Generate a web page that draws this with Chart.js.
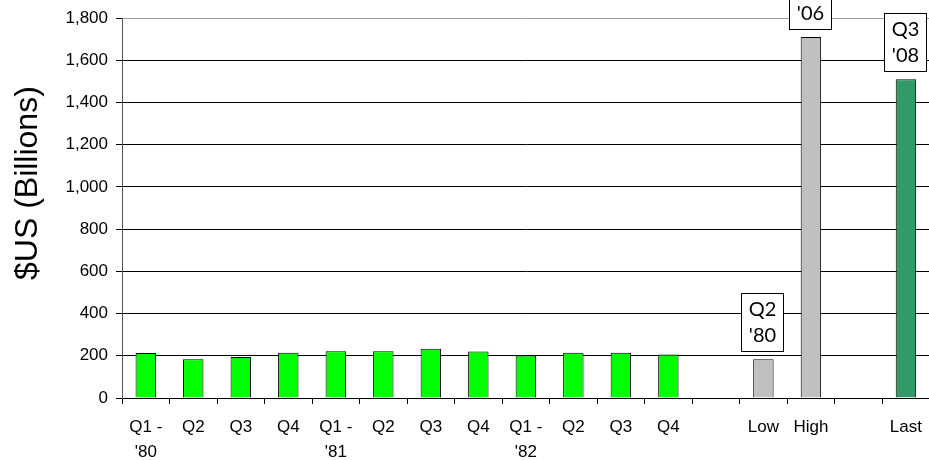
<!DOCTYPE html>
<html><head><meta charset="utf-8">
<script src="https://cdn.jsdelivr.net/npm/chart.js@4.4.0/dist/chart.umd.min.js"></script>
<style>
html,body{margin:0;padding:0;overflow:hidden;background:#fff;width:929px;height:460px}
#wrap{position:relative;width:933px;height:460px}
</style></head>
<body><div id="wrap"><canvas id="c"></canvas></div>
<script>
// ---- data ----
const categories = [["Q1 -","'80"],"Q2","Q3","Q4",["Q1 -","'81"],"Q2","Q3","Q4",["Q1 -","'82"],"Q2","Q3","Q4","","Low","High","","Last"];
const values = [213,184,194,214,222,222,234,220,201,214,214,206,null,184,1711,null,1511];
const barKinds = ["quarter","quarter","quarter","quarter","quarter","quarter","quarter","quarter","quarter","quarter","quarter","quarter","","range","range","","last"];
const barNotes = [null,null,null,null,null,null,null,null,null,null,null,null,null,["Q2","'80"],["Q4","'06"],null,["Q3","'08"]];
const yTickMin = 0, yTickMax = 1800, yTickStep = 200;
const yTitle = "$US (Billions)";

// ---- styles ----
const kindColors = {quarter:"#00FF00", range:"#C0C0C0", last:"#339966", "":"#ffffff"};
const FONT = '"Liberation Sans", Arial, sans-serif';

const notePlugin = {
  id:'notes',
  afterDatasetsDraw(chart){
    const ctx = chart.ctx, meta = chart.getDatasetMeta(0);
    ctx.save();
    ctx.font = '20px Lato, "Open Sans", sans-serif';
    barNotes.forEach((lines,i)=>{
      if(!lines) return;
      const el = meta.data[i];
      const w = 42, h = 58, lh = 26;
      const bottom = Math.round(el.y - 8);
      const top = bottom - h;
      const left = Math.round(el.x - w/2) - 1;
      ctx.fillStyle = '#fff';
      ctx.fillRect(left, top, w, h);
      ctx.strokeStyle = '#000'; ctx.lineWidth = 1;
      ctx.strokeRect(left+0.5, top+0.5, w, h);
      ctx.fillStyle = '#000'; ctx.textAlign = 'center'; ctx.textBaseline = 'middle';
      lines.forEach((t,k)=>ctx.fillText(t, left + w/2 + 0.5, top + h/2 + 1 + (k-(lines.length-1)/2)*lh));
    });
    ctx.restore();
  }
};

const yTitlePlugin = {
  id:'ytitle',
  afterDraw(chart){
    const ctx = chart.ctx, a = chart.chartArea;
    ctx.save();
    ctx.translate(a.left - 94, (a.top + a.bottom)/2 - 25);
    ctx.rotate(-Math.PI/2);
    ctx.font = '32px ' + FONT;
    ctx.fillStyle = '#000'; ctx.textAlign = 'center'; ctx.textBaseline = 'middle';
    ctx.fillText(yTitle, 0, 0);
    ctx.restore();
  }
};

new Chart(document.getElementById('c'), {
  type:'bar',
  data:{labels:categories, datasets:[{
    data:values,
    backgroundColor:barKinds.map(k=>kindColors[k]),
    borderColor:'#000', borderWidth:1,
    barPercentage:0.43, categoryPercentage:1
  }]},
  options:{
    responsive:true, maintainAspectRatio:false, animation:false, locale:'en-US',
    layout:{padding:{top:16,right:0,left:0,bottom:0}},
    plugins:{legend:{display:false}, tooltip:{enabled:false}},
    scales:{
      x:{
        grid:{drawOnChartArea:false, drawTicks:true, tickLength:6, tickColor:'#000', offset:true},
        border:{color:'#000', width:1},
        ticks:{color:'#000', font:{family:FONT, size:17, lineHeight:1.45}, padding:11, maxRotation:0, autoSkip:false},
        afterFit(s){ s.height = 62; }
      },
      y:{
        min:yTickMin, max:yTickMax,
        grid:{color:(c)=>c.tick && c.tick.value===yTickMax ? '#a0a0a0' : '#000', tickColor:'#000', tickLength:6, lineWidth:1},
        border:{color:'#555', width:1},
        ticks:{stepSize:yTickStep, color:'#000', font:{family:FONT, size:17}, padding:8},
        title:{display:false},
        afterFit(s){ s.width = 122; }
      }
    }
  },
  plugins:[notePlugin, yTitlePlugin]
});
</script></body></html>
